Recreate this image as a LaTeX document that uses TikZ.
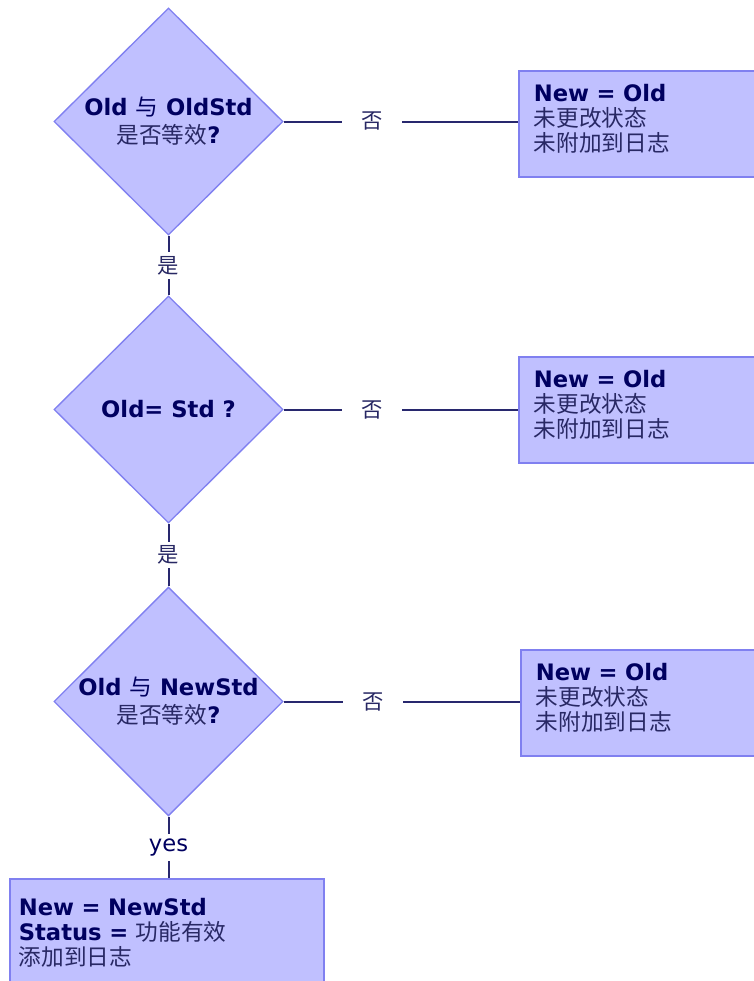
\documentclass[tikz,border=0pt]{standalone}
\usepackage{fontspec}
\setmainfont{DejaVu Sans}
\newfontfamily\cjk{Noto Sans CJK SC}
\usetikzlibrary{shapes.geometric}
\definecolor{boxfill}{RGB}{192,192,255}
\definecolor{boxline}{RGB}{128,128,240}
\definecolor{wire}{RGB}{40,40,110}
\definecolor{ink}{RGB}{0,0,96}
\definecolor{cnink}{RGB}{40,40,100}
\tikzset{
    test/.style={diamond, draw=boxline, fill=boxfill, line width=1pt, inner sep=0pt,
        minimum width=171.75pt, minimum height=170.25pt, align=center, text=ink,
        font=\fontsize{17pt}{21pt}\selectfont\bfseries},
    result/.style={rectangle, draw=boxline, fill=boxfill, line width=1.2pt, anchor=north west,
        inner ysep=0pt, inner xsep=11.25pt, text width=161.25pt, minimum height=79.5pt,
        text depth=46pt, align=left, text=ink, font=\fontsize{17pt}{18.75pt}\selectfont},
    wirelabel/.style={fill=white, inner sep=0pt, minimum width=45pt, minimum height=20pt,
        text=cnink, font=\fontsize{16pt}{16pt}\selectfont\cjk},
    wire/.style={draw=wire, line width=1.5pt},
}
\begin{document}
\begin{tikzpicture}[x=0.75pt,y=-0.75pt]
    \path[use as bounding box, fill=white] (0,0) rectangle (753,981);
    % decisions
    \node[test] (eqold) at (168.5,121.5) {Old {\cjk\mdseries 与} OldStd\\{\cjk\mdseries\color{cnink}是否等效}?};
    \node[test] (isstd) at (168.5,409.5) {Old= Std ?};
    \node[test] (eqnew) at (168.5,701.5) {Old {\cjk\mdseries 与} NewStd\\{\cjk\mdseries\color{cnink}是否等效}?};
    % outcomes
    \node[result] (keep1) at (518,70) {\textbf{New = Old}\\{\cjk\color{cnink}未更改状态}\\{\cjk\color{cnink}未附加到日志}};
    \node[result] (keep2) at (518,356) {\textbf{New = Old}\\{\cjk\color{cnink}未更改状态}\\{\cjk\color{cnink}未附加到日志}};
    \node[result] (keep3) at (520,649) {\textbf{New = Old}\\{\cjk\color{cnink}未更改状态}\\{\cjk\color{cnink}未附加到日志}};
    \node[result, inner xsep=6.75pt, text width=222pt, minimum height=81pt, text depth=38.5pt] (apply) at (9,878)
        {\textbf{New = NewStd}\\\textbf{Status =} {\cjk\color{cnink}功能有效}\\{\cjk\color{cnink}添加到日志}};
    % wires
    \draw[wire] (eqold.east) -- node[wirelabel, pos=0.379]{否} (eqold.east -| keep1.west);
    \draw[wire] (isstd.east) -- node[wirelabel, pos=0.379]{否} (isstd.east -| keep2.west);
    \draw[wire] (eqnew.east) -- node[wirelabel, pos=0.379]{否} (eqnew.east -| keep3.west);
    \draw[wire] (eqold.south) -- node[wirelabel]{是} (isstd.north);
    \draw[wire] (isstd.south) -- node[wirelabel]{是} (eqnew.north);
    \draw[wire] (eqnew.south) -- node[wirelabel, text=ink, font=\fontsize{17pt}{17pt}\selectfont]{yes} (eqnew.south |- apply.north);
\end{tikzpicture}
\end{document}
